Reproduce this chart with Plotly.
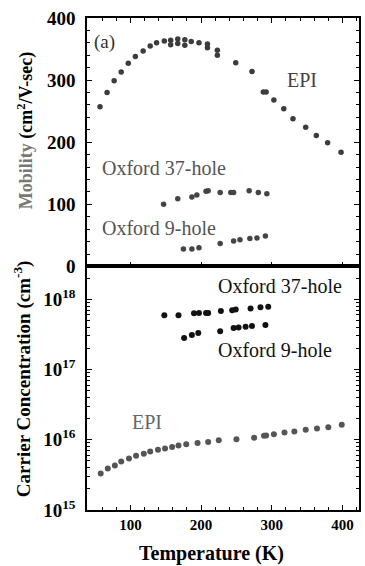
import plotly.graph_objects as go

# ---- Data ----
# Top panel: Mobility (cm2/V-sec)
epi_mob_T = [57, 67, 77, 87, 97, 107, 118, 128, 137, 148, 157, 157, 167, 167, 177, 177, 186, 197, 209, 209,
             223, 223, 249, 272, 288, 292, 303, 317, 330, 348, 363, 379, 398]
epi_mob = [257, 280, 299, 313, 327, 338, 347, 355, 360, 363, 357, 364, 359, 366, 356, 365, 362, 360, 352, 358,
           340, 348, 328, 314, 281, 281, 268, 254, 238, 224, 211, 199, 184]

ox37_mob_T = [147, 167, 187, 194, 207, 210, 227, 242, 246, 268, 281, 293]
ox37_mob = [100, 109, 112, 115, 121, 122, 119, 119, 119, 122, 119, 117]

ox9_mob_T = [175, 187, 197, 227, 246, 255, 269, 279, 291]
ox9_mob = [28, 28, 30, 37, 41, 43, 45, 46, 49]

# Bottom panel: Carrier concentration (cm-3)
epi_n_T = [58, 68, 78, 87, 98, 108, 119, 128, 139, 149, 159, 168, 179, 195, 210, 225,
           250, 275, 289, 292, 303, 318, 332, 348, 364, 380, 399]
epi_n = [3.3e15, 3.9e15, 4.3e15, 4.9e15, 5.4e15, 5.9e15, 6.3e15, 6.8e15, 7.2e15, 7.5e15, 7.9e15,
         8.3e15, 8.6e15, 9.0e15, 9.3e15, 9.8e15, 1.02e16, 1.07e16, 1.14e16, 1.15e16, 1.2e16,
         1.27e16, 1.31e16, 1.39e16, 1.45e16, 1.51e16, 1.63e16]

ox37_n_T = [148, 168, 190, 197, 207, 210, 228, 244, 249, 270, 284, 295]
ox37_n = [5.9e17, 5.9e17, 6.3e17, 6.4e17, 6.4e17, 6.4e17, 6.8e17, 7.0e17, 7.15e17, 7.4e17, 7.7e17, 7.8e17]

ox9_n_T = [176, 187, 196, 227, 246, 253, 263, 272, 291]
ox9_n = [2.8e17, 3.1e17, 3.3e17, 3.5e17, 3.9e17, 3.96e17, 4.05e17, 4.15e17, 4.3e17]

x_ticks = [100, 200, 300, 400]
mob_ticks = [0, 100, 200, 300, 400]
n_ticks = [1e15, 1e16, 1e17, 1e18]
n_ticktext = ["10<sup>15</sup>", "10<sup>16</sup>", "10<sup>17</sup>", "10<sup>18</sup>"]

SERIF = "Liberation Serif, Times New Roman, serif"
MS = 5.5

fig = go.Figure()
# top panel
fig.add_trace(go.Scatter(x=epi_mob_T, y=epi_mob, mode="markers", xaxis="x2", yaxis="y2",
                         marker=dict(size=MS, color="#3c3c3c"), showlegend=False))
fig.add_trace(go.Scatter(x=ox37_mob_T, y=ox37_mob, mode="markers", xaxis="x2", yaxis="y2",
                         marker=dict(size=MS, color="#444444"), showlegend=False))
fig.add_trace(go.Scatter(x=ox9_mob_T, y=ox9_mob, mode="markers", xaxis="x2", yaxis="y2",
                         marker=dict(size=MS, color="#444444"), showlegend=False))
# bottom panel
fig.add_trace(go.Scatter(x=epi_n_T, y=epi_n, mode="markers", xaxis="x", yaxis="y",
                         marker=dict(size=MS + 0.5, color="#555555"), showlegend=False))
fig.add_trace(go.Scatter(x=ox37_n_T, y=ox37_n, mode="markers", xaxis="x", yaxis="y",
                         marker=dict(size=MS + 0.5, color="#111111"), showlegend=False))
fig.add_trace(go.Scatter(x=ox9_n_T, y=ox9_n, mode="markers", xaxis="x", yaxis="y",
                         marker=dict(size=MS + 0.5, color="#111111"), showlegend=False))

XR = [38.6, 423.4]
SPLIT = 0.495
tickfont = dict(family=SERIF, size=19, color="black", weight="bold")
common = dict(showline=True, linecolor="black", linewidth=1.5, ticks="inside",
              ticklen=5, tickwidth=1, tickcolor="black", showgrid=False, zeroline=False)

fig.update_layout(
    width=365, height=566,
    margin=dict(l=87, r=4, t=18, b=56),
    paper_bgcolor="white", plot_bgcolor="white",
    xaxis=dict(domain=[0, 1], range=XR, anchor="y", tickvals=x_ticks, mirror=True,
               tickfont=dict(family=SERIF, size=15, color="black", weight="bold"),
               minor=dict(ticks="inside", dtick=20, tick0=0, ticklen=3, tickcolor="black"),
               **common),
    xaxis2=dict(domain=[0, 1], range=XR, anchor="y2", matches="x", tickvals=x_ticks,
                showticklabels=False, mirror="ticks",
                minor=dict(ticks="inside", dtick=20, tick0=0, ticklen=3, tickcolor="black"),
                **common),
    yaxis=dict(domain=[0, SPLIT], type="log", range=[15, 18.467], anchor="x",
               tickvals=n_ticks, ticktext=n_ticktext, tickfont=tickfont, mirror="ticks",
               ticklabelstandoff=6,
               minor=dict(ticks="inside", dtick="D1", ticklen=3, tickcolor="black"),
               **common),
    yaxis2=dict(domain=[SPLIT, 1], range=[0, 400], anchor="x2", tickvals=mob_ticks,
                tickfont=tickfont, mirror="ticks", ticklabelstandoff=6,
                minor=dict(ticks="inside", dtick=20, tick0=0, ticklen=3, tickcolor="black"),
                **common),
)

annos = [
    dict(x=46, y=361, xref="x2", yref="y2", text="(a)", xanchor="left", yanchor="middle",
         font=dict(family=SERIF, size=19, color="#333333")),
    dict(x=343, y=300, xref="x2", yref="y2", text="EPI", xanchor="center", yanchor="middle",
         font=dict(family=SERIF, size=20, color="#444444")),
    dict(x=57, y=159, xref="x2", yref="y2", text="Oxford 37-hole", xanchor="left", yanchor="middle",
         font=dict(family=SERIF, size=20, color="#555555")),
    dict(x=57, y=62, xref="x2", yref="y2", text="Oxford 9-hole", xanchor="left", yanchor="middle",
         font=dict(family=SERIF, size=20, color="#555555")),
    dict(x=221, y=18.19, xref="x", yref="y", text="Oxford 37-hole", xanchor="left", yanchor="middle",
         font=dict(family=SERIF, size=20, color="#111111")),
    dict(x=221, y=17.278, xref="x", yref="y", text="Oxford 9-hole", xanchor="left", yanchor="middle",
         font=dict(family=SERIF, size=20, color="#111111")),
    dict(x=123, y=16.253, xref="x", yref="y", text="EPI", xanchor="center", yanchor="middle",
         font=dict(family=SERIF, size=20, color="#666666")),
    # axis titles
    dict(x=0, y=0.770, xref="paper", yref="paper", xshift=-61, textangle=-90,
         text="<span style='color:#777777'>Mobility</span> (cm<sup>2</sup>/V-sec)",
         xanchor="center", yanchor="middle", showarrow=False,
         font=dict(family=SERIF, size=18, color="black", weight="bold")),
    dict(x=0, y=0.266, xref="paper", yref="paper", xshift=-65, textangle=-90,
         text="Carrier Concentration (cm<sup>-3</sup>)",
         xanchor="center", yanchor="middle", showarrow=False,
         font=dict(family=SERIF, size=19, color="black", weight="bold")),
    dict(x=0.456, y=0, xref="paper", yref="paper", yshift=-43,
         text="Temperature (K)", xanchor="center", yanchor="middle", showarrow=False,
         font=dict(family=SERIF, size=20, color="black", weight="bold")),
]
for a in annos:
    a.setdefault("showarrow", False)
    fig.add_annotation(**a)

fig.write_html("out.html", config={"displayModeBar": False},
               post_script="document.body.style.margin='0';document.body.style.padding='0';")
